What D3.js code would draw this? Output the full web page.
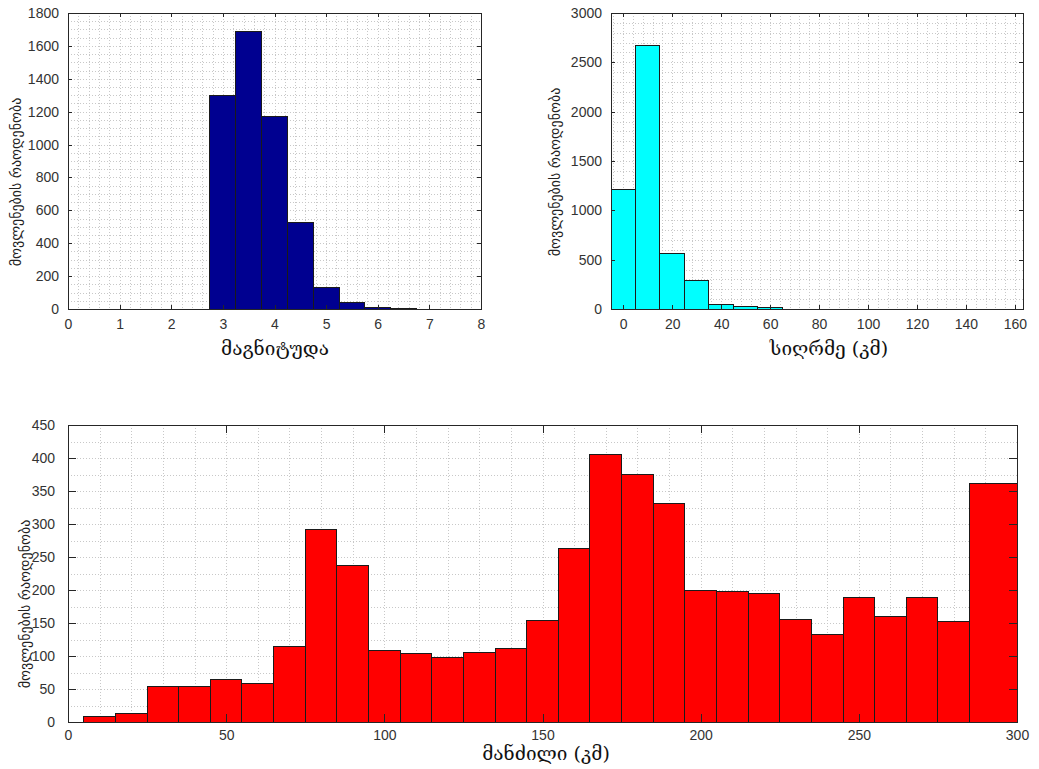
<!DOCTYPE html>
<meta charset="utf-8">
<style>
  body { margin: 0; background: #fff; }
  svg { font-family: "Liberation Sans", Arial, sans-serif; background: #fff; }
  .grid line { stroke: #c8c8c8; stroke-dasharray: 1,2; shape-rendering: crispEdges; }
  .axis path, .axis line { stroke: #262626; shape-rendering: crispEdges; }
  .axis text { fill: #333; font-size: 14px; }
  .bar { stroke: #1a1a1a; stroke-width: 1; shape-rendering: crispEdges; }
  .xtitle { font-family: "DejaVu Serif", serif; font-size: 19px; fill: #111; text-anchor: middle; }
  .ytitle { font-family: "DejaVu Sans", sans-serif; font-size: 14px; fill: #222; text-anchor: middle; }
</style>
<script src="https://d3js.org/d3.v7.min.js"></script>
<svg id="fig" width="1039" height="769"></svg>
<script>
// magnitude histogram (bin centres, width 0.5)
var magCenters = [3, 3.5, 4, 4.5, 5, 5.5, 6, 6.5];
var magCounts  = [1296, 1690, 1169, 526, 129, 40, 12, 2];
var magXTicks  = [0, 1, 2, 3, 4, 5, 6, 7, 8];
var magYTicks  = [0, 200, 400, 600, 800, 1000, 1200, 1400, 1600, 1800];

// depth histogram (bin centres, width 10)
var depthCenters = [0, 10, 20, 30, 40, 50, 60];
var depthCounts  = [1213, 2670, 563, 293, 50, 27, 18];
var depthXTicks  = [0, 20, 40, 60, 80, 100, 120, 140, 160];
var depthYTicks  = [0, 500, 1000, 1500, 2000, 2500, 3000];

// distance histogram (bin edges, last bin is wider)
var distEdges  = [5, 15, 25, 35, 45, 55, 65, 75, 85, 95, 105, 115, 125, 135, 145,
                  155, 165, 175, 185, 195, 205, 215, 225, 235, 245, 255, 265, 275, 285, 300];
var distCounts = [8, 13, 54, 54, 64, 58, 114, 291, 237, 108, 104, 97, 106, 112,
                  154, 263, 405, 375, 331, 200, 198, 194, 156, 132, 189, 160, 189, 153, 362];
var distXTicks = [0, 50, 100, 150, 200, 250, 300];
var distYTicks = [0, 50, 100, 150, 200, 250, 300, 350, 400, 450];

var yLabel = "მოვლენების რაოდენობა";

var svg = d3.select("#fig");

function drawHist(o) {
  var x = d3.scaleLinear().domain(o.xDomain).range([o.left, o.right]);
  var y = d3.scaleLinear().domain(o.yDomain).range([o.bottom, o.top]);
  var g = svg.append("g");

  // dotted grid (minor + major)
  var grid = g.append("g").attr("class", "grid");
  var xs = d3.range(o.xMinor[0], o.xDomain[1] + 1e-9, o.xMinor[1]);
  var ys = d3.range(o.yDomain[0], o.yDomain[1] + 1e-9, o.yMinor);
  grid.selectAll(".gx").data(xs).join("line").attr("class", "gx")
    .attr("x1", d => Math.round(x(d)) + 0.5).attr("x2", d => Math.round(x(d)) + 0.5)
    .attr("y1", o.top).attr("y2", o.bottom);
  grid.selectAll(".gy").data(ys).join("line").attr("class", "gy")
    .attr("y1", d => Math.round(y(d)) + 0.5).attr("y2", d => Math.round(y(d)) + 0.5)
    .attr("x1", o.left).attr("x2", o.right);

  var clipId = "clip" + o.id;
  svg.append("clipPath").attr("id", clipId).append("rect")
    .attr("x", o.left).attr("y", o.top)
    .attr("width", o.right - o.left).attr("height", o.bottom - o.top);

  g.append("g").attr("clip-path", "url(#" + clipId + ")")
    .selectAll("rect").data(o.bins).join("rect")
    .attr("class", "bar")
    .attr("x", d => x(d.x0))
    .attr("width", d => x(d.x1) - x(d.x0))
    .attr("y", d => y(d.n))
    .attr("height", d => y(0) - y(d.n))
    .attr("fill", o.color);

  var tl = o.tickLen, fmt = d3.format("d");
  g.append("g").attr("class", "axis")
    .attr("transform", "translate(0," + o.bottom + ")")
    .call(d3.axisBottom(x).tickValues(o.xTicks).tickSize(-tl).tickSizeOuter(0)
      .tickPadding(tl + o.xPad).tickFormat(fmt));
  g.append("g").attr("class", "axis")
    .attr("transform", "translate(0," + o.top + ")")
    .call(d3.axisTop(x).tickValues(o.xTicks).tickSize(-tl).tickSizeOuter(0).tickFormat(""));
  g.append("g").attr("class", "axis")
    .attr("transform", "translate(" + o.left + ",0)")
    .call(d3.axisLeft(y).tickValues(o.yTicks).tickSize(-tl).tickSizeOuter(0)
      .tickPadding(tl + 5).tickFormat(fmt));
  g.append("g").attr("class", "axis")
    .attr("transform", "translate(" + o.right + ",0)")
    .call(d3.axisRight(y).tickValues(o.yTicks).tickSize(-tl).tickSizeOuter(0).tickFormat(""));

  g.append("text").attr("class", "xtitle")
    .attr("x", o.xTitlePos[0]).attr("y", o.xTitlePos[1]).text(o.xTitle);
  g.append("text").attr("class", "ytitle")
    .attr("transform", "translate(" + o.yTitlePos[0] + "," + o.yTitlePos[1] + ") rotate(-90)")
    .text(yLabel);
}

drawHist({
  id: 1, left: 68, right: 481, top: 13, bottom: 309,
  xDomain: [0, 8], yDomain: [0, 1800],
  xTicks: magXTicks, yTicks: magYTicks, xMinor: [0, 0.2], yMinor: 50,
  bins: magCenters.map((c, i) => ({x0: c - 0.25, x1: c + 0.25, n: magCounts[i]})),
  color: "#000090", tickLen: 4, xPad: 6,
  xTitle: "მაგნიტუდა", xTitlePos: [275, 355], yTitlePos: [21, 182]
});

drawHist({
  id: 2, left: 611, right: 1023, top: 13, bottom: 309,
  xDomain: [-5, 163.3], yDomain: [0, 3000],
  xTicks: depthXTicks, yTicks: depthYTicks, xMinor: [-4, 4], yMinor: 100,
  bins: depthCenters.map((c, i) => ({x0: c - 5, x1: c + 5, n: depthCounts[i]})),
  color: "#00ffff", tickLen: 4, xPad: 6,
  xTitle: "სიღრმე (კმ)", xTitlePos: [829, 355], yTitlePos: [560, 172]
});

drawHist({
  id: 3, left: 68, right: 1017, top: 425, bottom: 722,
  xDomain: [0, 300], yDomain: [0, 450],
  xTicks: distXTicks, yTicks: distYTicks, xMinor: [0, 10], yMinor: 25,
  bins: distCounts.map((n, i) => ({x0: distEdges[i], x1: distEdges[i + 1], n: n})),
  color: "#ff0000", tickLen: 8, xPad: 0,
  xTitle: "მანძილი (კმ)", xTitlePos: [546, 760], yTitlePos: [30, 604]
});
</script>
